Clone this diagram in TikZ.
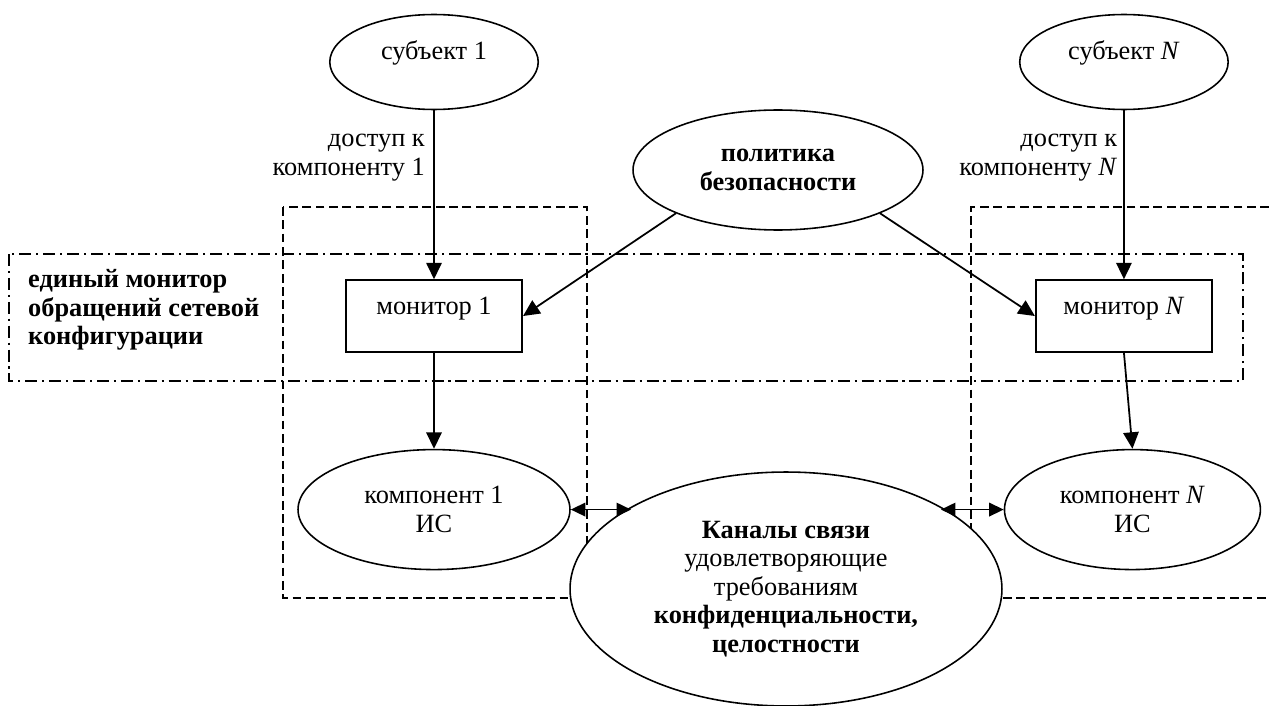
\documentclass[tikz,border=0pt]{standalone}
\usepackage{fontspec}
\setmainfont{Liberation Serif}
\usetikzlibrary{shapes.geometric, arrows.meta, positioning, calc}
\newcommand{\diagfont}{\fontsize{15}{16.3}\selectfont}

\begin{document}
\begin{tikzpicture}[
    x=0.02cm, y=-0.02cm,
    every node/.style={font=\diagfont},
    oval/.style={ellipse, draw, line width=0.9pt, fill=white, inner sep=0pt, align=center},
    subj/.style={oval, minimum width=4.17cm, minimum height=1.9cm, text height=10pt, text depth=13pt},
    comp/.style={oval, minimum height=2.4cm},
    mon/.style={rectangle, draw, line width=0.9pt, fill=white, minimum width=3.53cm, minimum height=1.44cm, text height=10pt, text depth=11.5pt},
    ptr/.style={-{Triangle[length=0.33cm, width=0.31cm]}, line width=1pt},
    dblptr/.style={{Triangle[length=0.29cm, width=0.27cm]}-{Triangle[length=0.29cm, width=0.27cm]}, line width=1pt},
    grp/.style={dash pattern=on 5pt off 2.6pt, line width=0.8pt},
    sysgrp/.style={dash pattern=on 6.8pt off 2.8pt on 1.2pt off 2.8pt, line width=0.8pt}
]
\useasboundingbox (0,0) rectangle (1269,706);

% group frames
\draw[grp] (283,207) rectangle (587,598);
\draw[grp] (1269,207) -- (971,207) -- (971,598) -- (1269,598);
\draw[sysgrp] (9,254) rectangle (1243,381);
\node[anchor=west, align=left, font=\diagfont\bfseries] (syslbl) at (22,310) {единый монитор\\обращений сетевой\\конфигурации};

% subjects, monitors, components
\node[subj] (subj1) at (434,62) {субъект 1};
\node[subj, right=9.6cm of subj1] (subjN) {субъект \textit{N}};
\node[mon, below=3.38cm of subj1] (mon1) {монитор 1};
\node[mon, below=3.38cm of subjN] (monN) {монитор \textit{N}};
\node[comp, minimum width=5.44cm, below=1.92cm of mon1] (comp1) {компонент 1\\ИС};
\node[comp, minimum width=5.12cm, below=1.92cm of monN, xshift=0.17cm] (compN) {компонент \textit{N}\\ИС};

\node[oval, font=\diagfont\bfseries, minimum width=5.8cm, minimum height=2.4cm] (policy) at (778,170) {политика\\безопасности};
\node[oval, minimum width=8.64cm, minimum height=4.68cm] (chan) at (786,589)
    {\textbf{Каналы связи}\\удовлетворяющие\\требованиям\\\textbf{конфиденциальности,}\\\textbf{целостности}};

% connectors
\draw[ptr] (subj1.south) -- node[left, align=right, pos=0.28, xshift=-0.05cm] {доступ к\\компоненту 1} (mon1.north);
\draw[ptr] (subjN.south) -- node[left, align=right, pos=0.28] {доступ к\\компоненту \textit{N}} (monN.north);
\draw[ptr] (policy.203) -- (mon1.east);
\draw[ptr] (policy.337) -- (monN.west);
\draw[ptr] (mon1.south) -- (comp1.north);
\draw[ptr] (monN.south) -- (compN.north);
\draw[dblptr] (comp1.east) -- (comp1.east -| chan.152);
\draw[dblptr] (compN.west -| chan.28) -- (compN.west);
\end{tikzpicture}
\end{document}
